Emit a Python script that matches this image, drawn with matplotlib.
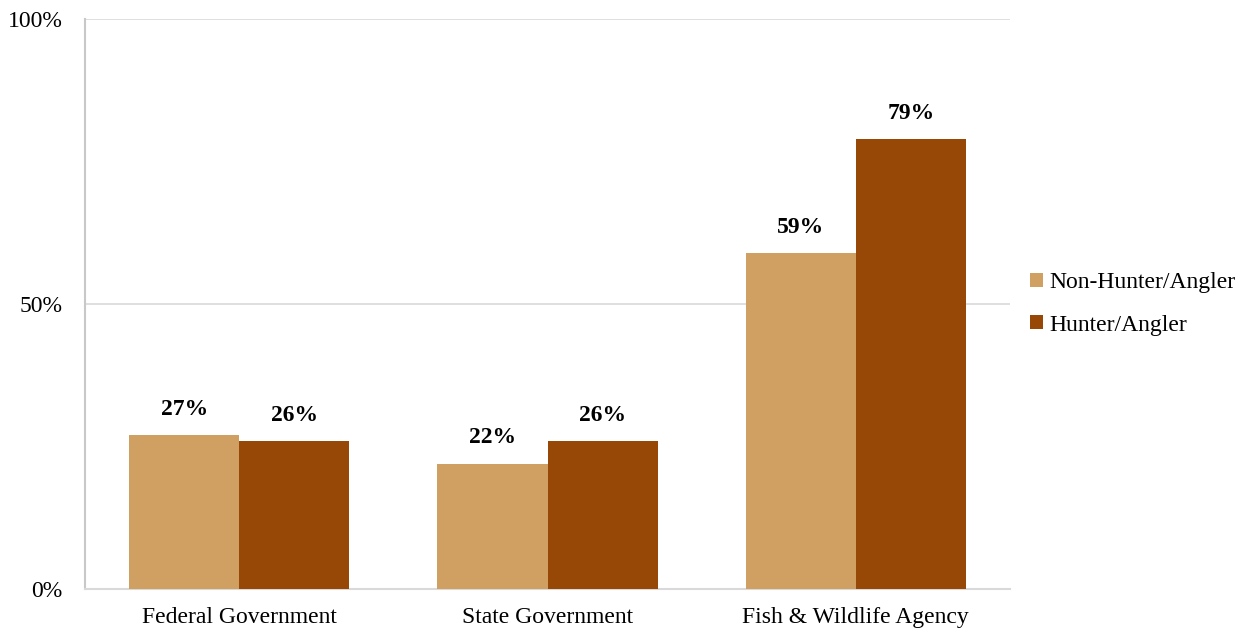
import matplotlib
matplotlib.use("Agg")
import matplotlib.pyplot as plt
import numpy as np

categories = ["Federal Government", "State Government", "Fish & Wildlife Agency"]
series_names = ["Non-Hunter/Angler", "Hunter/Angler"]
non_hunter = [27, 22, 59]
hunter = [26, 26, 79]
colors = ["#D09F62", "#974806"]

plt.rcParams['font.family'] = ['Liberation Serif', 'DejaVu Serif']

fig = plt.figure(figsize=(12.5, 6.35), dpi=100)
ax = fig.add_axes([0.068, 0.0724, 0.74, 0.8976])

x = np.arange(len(categories))
w = 0.357
series = [non_hunter, hunter]
for i, (vals, name, c) in enumerate(zip(series, series_names, colors)):
    pos = x + (i - 0.5) * w
    bars = ax.bar(pos, vals, width=w, color=c, label=name, zorder=3)
    for b, v in zip(bars, vals):
        ax.annotate(f"{v}%", (b.get_x() + b.get_width() / 2, v),
                    xytext=(0, 18.5), textcoords="offset points",
                    ha="center", va="center", fontsize=17, fontweight="bold")

ax.set_xlim(-0.5, 2.5)
ax.set_ylim(0, 100)
ax.set_yticks([0, 50, 100])
ax.set_yticklabels(["0%", "50%", "100%"])
ax.set_xticks(x)
ax.set_xticklabels(categories)
ax.tick_params(axis='both', length=0, labelsize=17)
ax.tick_params(axis='y', pad=16)
ax.tick_params(axis='x', pad=13)
ax.yaxis.grid(True, color="#D9D9D9", linewidth=1.2, zorder=0)
for s in ["top", "right"]:
    ax.spines[s].set_visible(False)
ax.spines["left"].set_color("#C8C8C8")
ax.spines["left"].set_linewidth(1.5)
ax.spines["bottom"].set_color("#D9D9D9")
ax.spines["bottom"].set_linewidth(1.5)
ax.set_axisbelow(True)

leg = ax.legend(loc="center left", bbox_to_anchor=(1.0216, 0.5), frameon=False,
                fontsize=17, handlelength=0.55, handleheight=0.55,
                handletextpad=0.25, labelspacing=0.9, borderpad=0,
                borderaxespad=0)

fig.savefig("out.png", dpi=100)
